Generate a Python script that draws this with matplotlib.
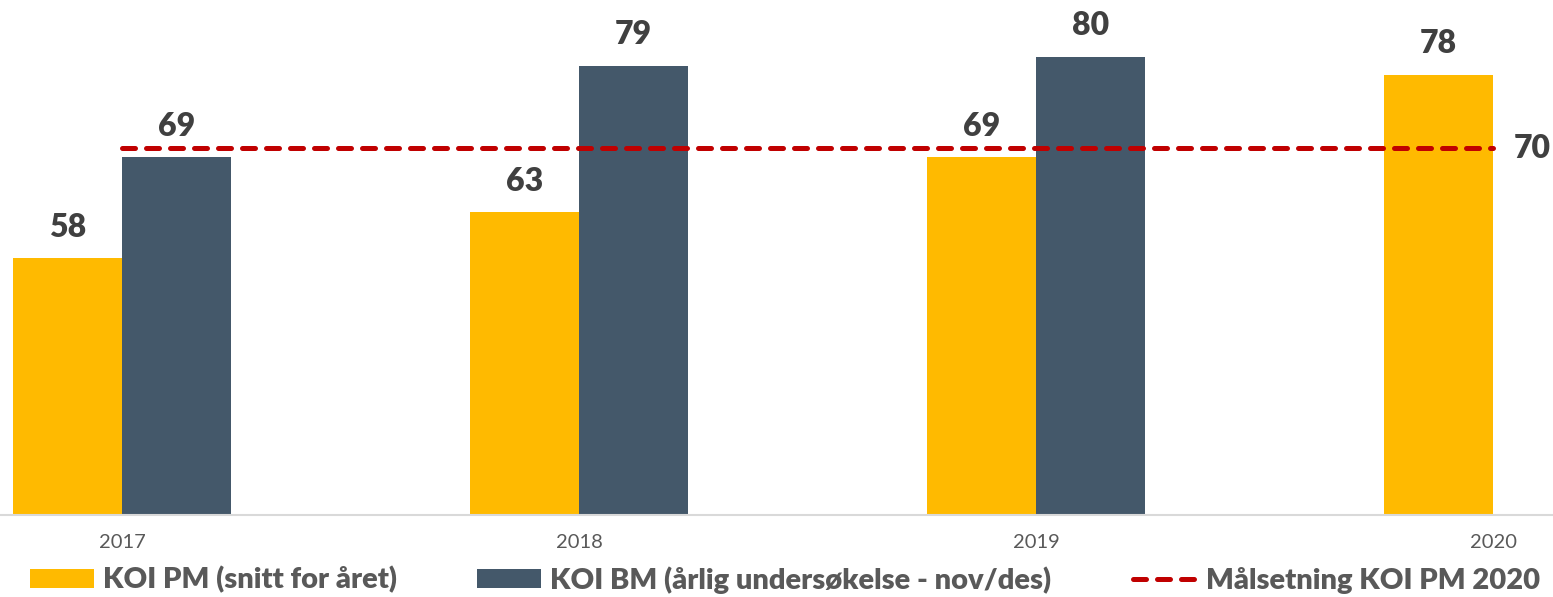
import matplotlib.pyplot as plt
import numpy as np

# Data
years = ["2017", "2018", "2019", "2020"]
koi_pm = [58, 63, 69, 78]
koi_bm = [69, 79, 80, None]
target = [70, 70, 70, 70]

pm_color = "#FFBA00"
bm_color = "#44586A"
line_color = "#C00000"
font = "Lato"

plt.rcParams["font.family"] = [font, "DejaVu Sans"]

fig = plt.figure(figsize=(15.53, 5.97), dpi=100)
ax = fig.add_axes([0, 82 / 597, 1, 515 / 597])

x = np.arange(len(years))
w = 0.2385

# Bars
ax.bar(x - w / 2, koi_pm, width=w, color=pm_color, label="KOI PM (snitt for året)")
bm_x = [xi + w / 2 for xi, v in zip(x, koi_bm) if v is not None]
bm_v = [v for v in koi_bm if v is not None]
ax.bar(bm_x, bm_v, width=w, color=bm_color, label="KOI BM (årlig undersøkelse - nov/des)")

# Target line
ax.plot(x, target, color=line_color, lw=3.6, linestyle=(0, (2.6, 2.2)),
        dash_capstyle="round", label="Målsetning KOI PM 2020")

# Value labels
lab = dict(ha="center", va="bottom", fontsize=23, fontweight="heavy", color="#404040")
for xi, v in zip(x, koi_pm):
    ax.annotate(str(v), (xi - w / 2, v), xytext=(0, 12), textcoords="offset points", **lab)
for xi, v in zip(bm_x, bm_v):
    ax.annotate(str(v), (xi, v), xytext=(0, 12), textcoords="offset points", **lab)
ax.annotate(str(target[-1]), (x[-1], target[-1]), xytext=(15, 0), textcoords="offset points",
            ha="left", va="center", fontsize=23, fontweight="heavy", color="#404040")

ax.set_xlim(-122 / 457, 3 + 60 / 457)
ax.set_ylim(30, 30 + 515 / 9.17)
ax.set_xticks(x)
ax.set_xticklabels(years, fontsize=14.5, color="#595959")
ax.tick_params(axis="x", length=0, pad=14)
ax.set_yticks([])
for s in ["top", "left", "right"]:
    ax.spines[s].set_visible(False)
ax.spines["bottom"].set_color("#D9D9D9")
ax.spines["bottom"].set_linewidth(1.5)

# Legend, one entry at a time so each sits where it does in the original
handles, labels = ax.get_legend_handles_labels()
order = [1, 2, 0]
lx = [30, 477, 1133]
for i, px in zip(order, lx):
    fig.legend([handles[i]], [labels[i]], loc="center left",
               bbox_to_anchor=(px / 1553, 1 - 580 / 597), frameon=False,
               prop={"weight": "heavy", "size": 21},
               labelcolor="#595959", handlelength=2.2, handleheight=0.6,
               handletextpad=0.3, borderpad=0, borderaxespad=0)

fig.savefig("out.png", dpi=100)
